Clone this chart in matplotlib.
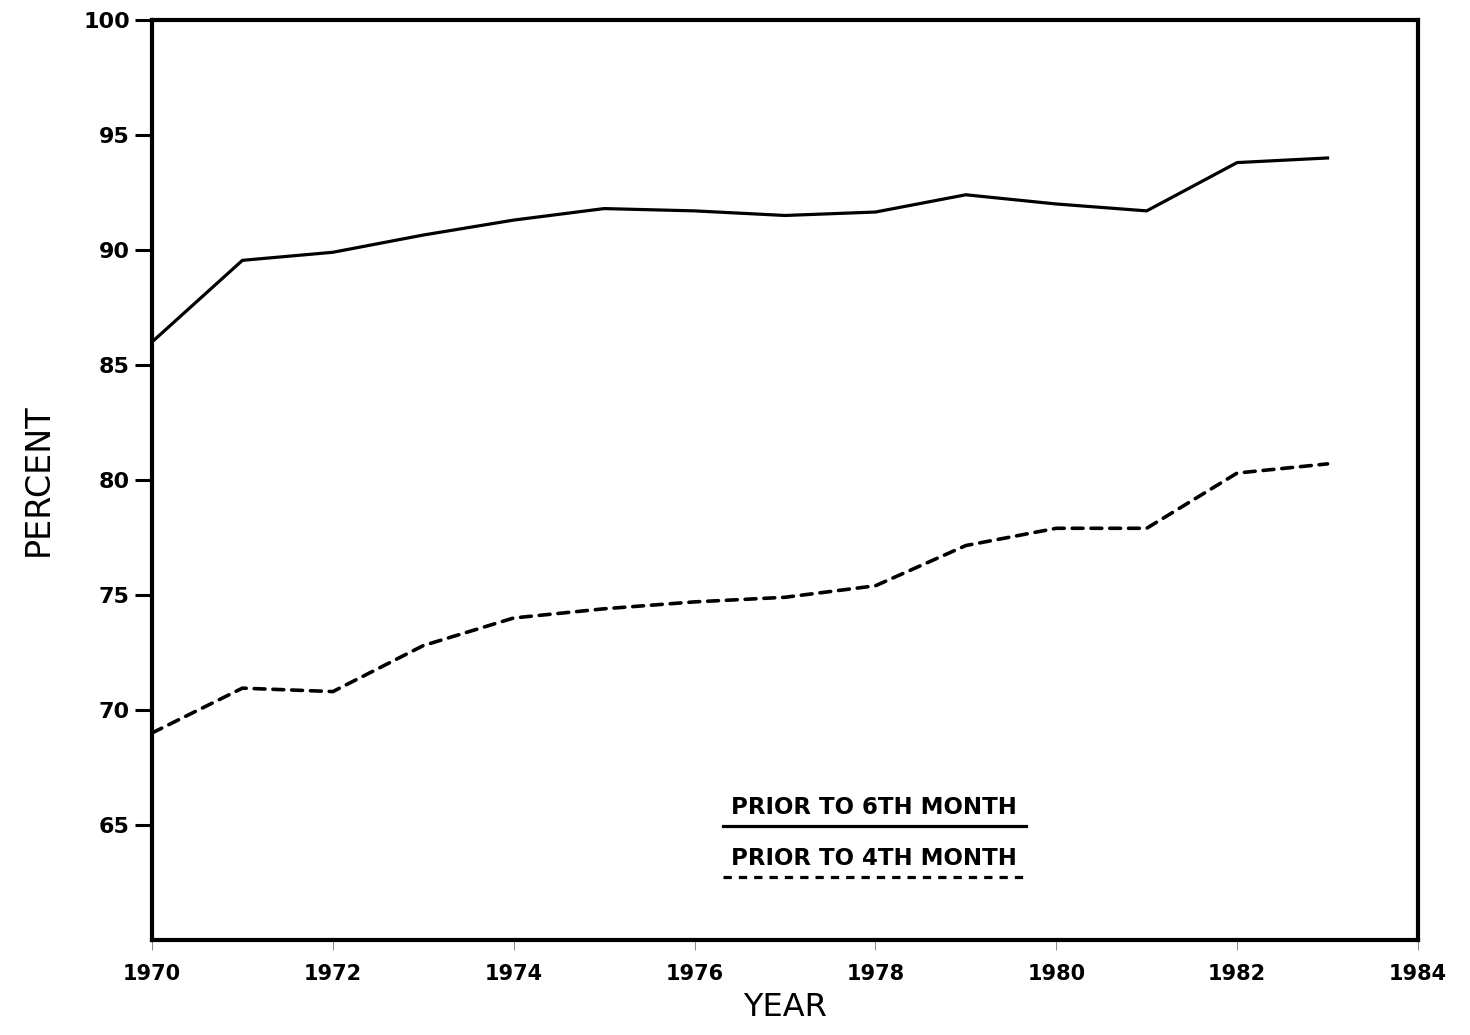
import matplotlib
matplotlib.use("Agg")
from matplotlib import pyplot as plt

# values
years = [1970, 1971, 1972, 1973, 1974, 1975, 1976, 1977, 1978, 1979, 1980, 1981, 1982, 1983]
prior_6th = [86.0, 89.55, 89.9, 90.65, 91.3, 91.8, 91.7, 91.5, 91.65, 92.4, 92.0, 91.7, 93.8, 94.0]
prior_4th = [69.0, 70.95, 70.8, 72.8, 74.0, 74.4, 74.7, 74.9, 75.4, 77.15, 77.9, 77.9, 80.3, 80.7]
xticks = [1970, 1972, 1974, 1976, 1978, 1980, 1982, 1984]
yticks = [65, 70, 75, 80, 85, 90, 95, 100]
legend_labels = ["PRIOR TO 6TH MONTH", "PRIOR TO 4TH MONTH"]

plt.rcParams['font.family'] = ['DejaVu Sans']

fig = plt.figure(figsize=(14.7, 10.35), dpi=100)
ax = fig.add_axes([0.1034, 0.0918, 0.8612, 0.8889])

ax.plot(years, prior_6th, color="black", lw=2.3, solid_joinstyle="round")
ax.plot(years, prior_4th, color="black", lw=2.6, linestyle=(0, (3.0, 2.2)),
        dash_capstyle="round")

ax.set_xlim(1970, 1984)
ax.set_ylim(60, 100)
ax.set_xticks(xticks)
ax.set_yticks(yticks)
ax.set_xticklabels([str(y) for y in xticks], fontsize=15, fontweight="bold")
ax.set_yticklabels([str(y) for y in yticks], fontsize=16, fontweight="bold")
ax.tick_params(axis="y", direction="out", length=12, width=2.2, pad=4)
ax.tick_params(axis="x", direction="out", length=7, width=0.7, color="#888888", pad=10)

for s in ax.spines.values():
    s.set_linewidth(3)

ax.set_xlabel("YEAR", fontsize=23, labelpad=6)
ax.set_ylabel("PERCENT", fontsize=24, labelpad=20)

# hand-drawn style legend: text with a line underneath
ax.text(0.5705, 0.1435, legend_labels[0], transform=ax.transAxes, ha="center",
        va="center", fontsize=16.5, fontweight="bold")
ax.plot([0.451, 0.690], [0.124, 0.124], transform=ax.transAxes, color="black", lw=2.3)
ax.text(0.5705, 0.089, legend_labels[1], transform=ax.transAxes, ha="center",
        va="center", fontsize=16.5, fontweight="bold")
ax.plot([0.451, 0.690], [0.0685, 0.0685], transform=ax.transAxes, color="black",
        lw=2.3, linestyle=(0, (2.6, 2.2)))

fig.savefig("out.png", dpi=100)
